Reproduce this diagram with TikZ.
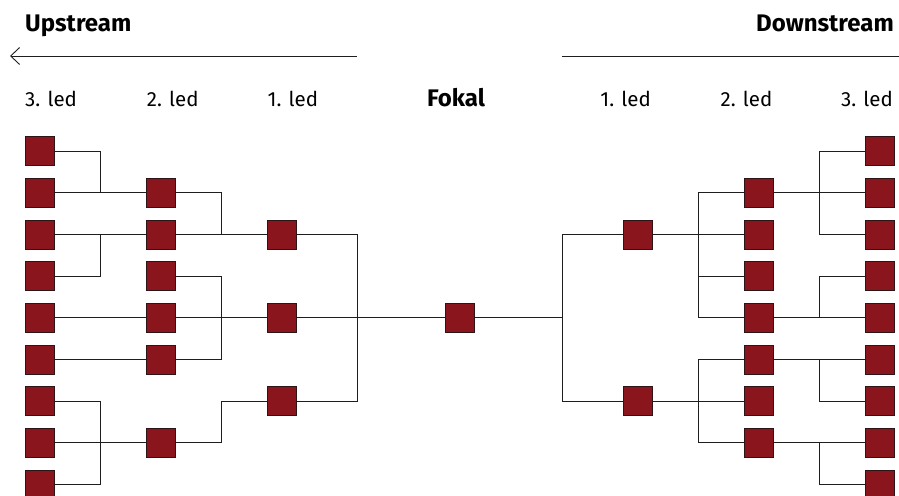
\documentclass[tikz,border=0pt]{standalone}
\usepackage{fontspec}
\setmainfont{Fira Sans}
\usepackage{tikz}
\usetikzlibrary{positioning, calc, arrows.meta}

\definecolor{linkred}{RGB}{139,21,28}
\definecolor{linkedge}{RGB}{45,20,22}
\definecolor{linkline}{RGB}{30,30,30}

\tikzset{
  firm/.style={draw=linkedge, fill=linkred, line width=0.8pt, minimum size=29pt, inner sep=0pt},
  link/.style={draw=linkline, line width=0.9pt},
  tierlabel/.style={font=\fontsize{20.5}{24}\selectfont, inner sep=0pt},
  headlabel/.style={font=\fontsize{24}{28}\selectfont\bfseries, inner sep=0pt}
}

\begin{document}
\begin{tikzpicture}[x=1pt, y=-1pt]

      \useasboundingbox (0,0) rectangle (899,495);

      % SQUARES

      \foreach \r in {0,...,8} {
        \node[firm] (u3r\r) at (40,151.2+41.67*\r) {};
        \node[firm] (d3r\r) at (879.5,151.2+41.67*\r) {};
      }
      \foreach \r in {1,2,3,4,5,7}
        \node[firm] (u2r\r) at (161.2,151.2+41.67*\r) {};
      \foreach \r in {1,...,7}
        \node[firm] (d2r\r) at (758.5,151.2+41.67*\r) {};
      \foreach \r in {2,4,6}
        \node[firm] (u1r\r) at (282,151.2+41.67*\r) {};
      \foreach \r in {2,6}
        \node[firm] (d1r\r) at (637.5,151.2+41.67*\r) {};

      \node[firm] (f) at (459.7,151.2+41.67*4) {};

      % JUNCTIONS

      \coordinate (ja) at (100,0);
      \coordinate (jb) at (221,0);
      \coordinate (jc) at (357,0);
      \coordinate (jd) at (562,0);
      \coordinate (je) at (698,0);
      \coordinate (jf) at (819,0);

      % LABELS

      \node[headlabel, anchor=base west] (upLabel) at (25,32) {Upstream};
      \node[headlabel, anchor=base east] (downLabel) at (894,32) {Downstream};
      \node[headlabel, anchor=base] (fLabel) at (456,106.5) {Fokal};

      \node[tierlabel, anchor=base west] (u3Label) at (25,106.5) {3. led};
      \node[tierlabel, anchor=base west] (u2Label) at (146.7,106.5) {2. led};
      \node[tierlabel, anchor=base west] (u1Label) at (267.5,106.5) {1. led};
      \node[tierlabel, anchor=base east] (d1Label) at (651,106.5) {1. led};
      \node[tierlabel, anchor=base east] (d2Label) at (772.5,106.5) {2. led};
      \node[tierlabel, anchor=base east] (d3Label) at (893,106.5) {3. led};

      % ARROWS

      \coordinate (upStart) at (jc |- 0,56);
      \coordinate (upEnd) at (10,56);
      \coordinate (downStart) at (jd |- 0,56);
      \coordinate (downEnd) at (899,56);
      \draw[link, -{Straight Barb[length=9pt, width=17pt]}] (upStart) -- (upEnd);
      \draw[link] (downStart) -- (downEnd);

      % UPSTREAM LINKS

      \draw[link] (u3r0.east) -| (u3r1 -| ja);
      \draw[link] (u3r1.east) -- (u2r1.west);
      \draw[link] (u3r2.east) -- (u2r2.west);
      \draw[link] (u3r3.east) -| (u3r2 -| ja);
      \draw[link] (u3r4.east) -- (u2r4.west);
      \draw[link] (u3r5.east) -- (u2r5.west);
      \draw[link] (u3r6.east) -| (u3r8 -| ja) -- (u3r8.east);
      \draw[link] (u3r7.east) -- (u2r7.west);

      \draw[link] (u2r1.east) -| (u2r2 -| jb);
      \draw[link] (u2r2.east) -- (u1r2.west);
      \draw[link] (u2r3.east) -| (u2r5 -| jb) -- (u2r5.east);
      \draw[link] (u2r4.east) -- (u1r4.west);
      \draw[link] (u2r7.east) -| (u1r6 -| jb) -- (u1r6.west);

      \draw[link] (u1r2.east) -| (u1r6 -| jc) -- (u1r6.east);
      \draw[link] (u1r4.east) -- (f.west);

      % DOWNSTREAM LINKS

      \draw[link] (f.east) -- (f -| jd);
      \draw[link] (d1r2.west) -| (d1r6 -| jd) -- (d1r6.west);

      \draw[link] (d2r1.west) -| (d2r4 -| je) -- (d2r4.west);
      \draw[link] (d1r2.east) -- (d2r2.west);
      \draw[link] (d2r3.west) -- (d2r3 -| je);
      \draw[link] (d2r5.west) -| (d2r7 -| je) -- (d2r7.west);
      \draw[link] (d1r6.east) -- (d2r6.west);

      \draw[link] (d3r0.west) -| (d3r2 -| jf) -- (d3r2.west);
      \draw[link] (d2r1.east) -- (d3r1.west);
      \draw[link] (d3r3.west) -| (d3r4 -| jf);
      \draw[link] (d2r4.east) -- (d3r4.west);
      \draw[link] (d2r5.east) -- (d3r5.west);
      \draw[link] (d3r6.west) -| (d3r5 -| jf);
      \draw[link] (d2r7.east) -- (d3r7.west);
      \draw[link] (d3r8.west) -| (d3r7 -| jf);

    \end{tikzpicture}
\end{document}
